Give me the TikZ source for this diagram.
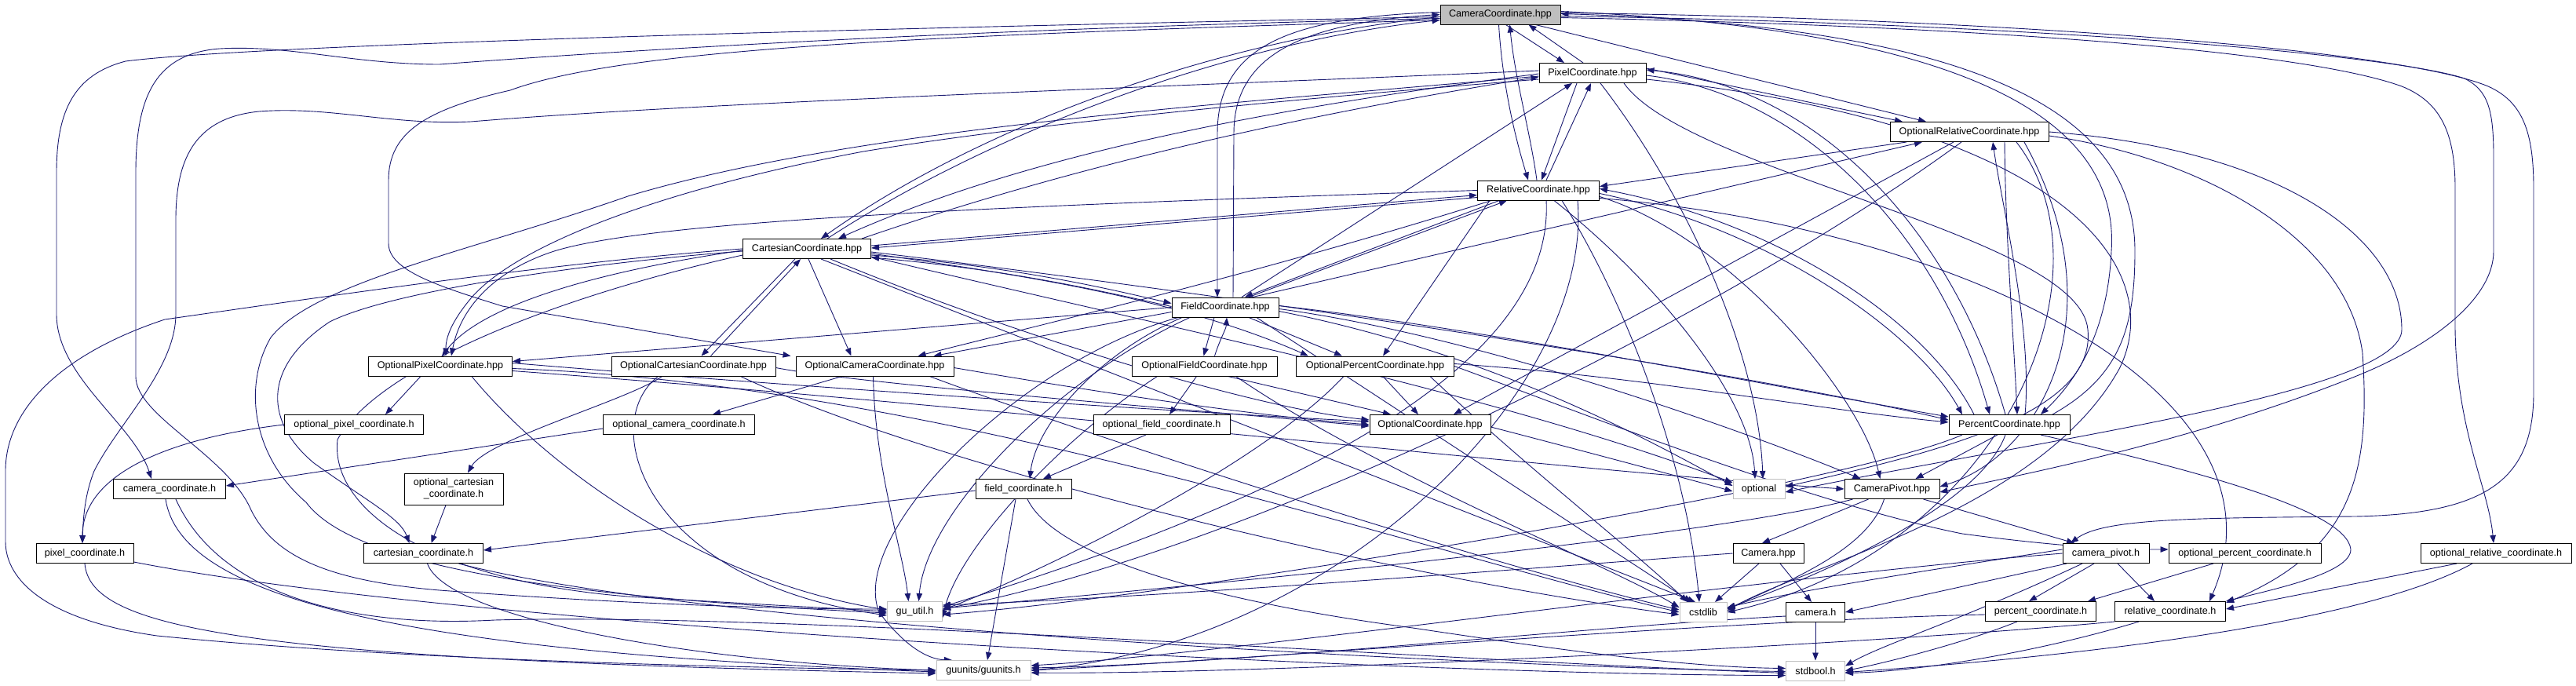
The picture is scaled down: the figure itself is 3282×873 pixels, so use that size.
\documentclass[tikz,border=0pt]{standalone}
\usepackage{fontspec}
\setmainfont{Liberation Sans}
\usetikzlibrary{arrows.meta}
\definecolor{eb}{HTML}{191970}
\definecolor{gb}{HTML}{BFBFBF}
\pgfdeclarelayer{edgelayer}
\pgfsetlayers{edgelayer,main}
\begin{document}
\begin{tikzpicture}[x=1pt,y=-1pt,
  n/.style={draw=black,fill=white,line width=1pt,minimum height=25pt,inner sep=0pt,
    font=\fontsize{12.6pt}{15pt}\selectfont},
  sys/.style={n,draw=gb},
  e/.style={draw=eb,line width=0.9pt,-{Triangle[length=10pt,width=7.5pt]}},
]
\begin{pgfonlayer}{edgelayer}
\useasboundingbox[fill=white] (0,0) rectangle (3282,873);
\end{pgfonlayer}

% ---------- nodes ----------
\node[n,fill=gb,minimum width=153pt] (cam) at (1911.5,18.5) {CameraCoordinate.hpp};
\node[n,minimum width=136pt] (pix) at (2029,93) {PixelCoordinate.hpp};
\node[n,minimum width=155pt] (rel) at (1960,242.5) {RelativeCoordinate.hpp};
\node[n,minimum width=163pt] (car) at (1028,317) {CartesianCoordinate.hpp};
\node[n,minimum width=136pt] (fld) at (1561,391.5) {FieldCoordinate.hpp};
\node[n,minimum width=202pt] (orel) at (2509,168) {OptionalRelativeCoordinate.hpp};
\node[n,minimum width=183pt] (opix) at (561,466.5) {OptionalPixelCoordinate.hpp};
\node[n,minimum width=209pt] (ocar) at (883.5,466.5) {OptionalCartesianCoordinate.hpp};
\node[n,minimum width=201pt] (ocam) at (1114.5,466.5) {OptionalCameraCoordinate.hpp};
\node[n,minimum width=185pt] (ofld) at (1534.5,466.5) {OptionalFieldCoordinate.hpp};
\node[n,minimum width=201pt] (oper) at (1752,466.5) {OptionalPercentCoordinate.hpp};
\node[n,minimum width=177pt] (opixh) at (451,541) {optional\_pixel\_coordinate.h};
\node[n,minimum width=193pt] (ocamh) at (865,541) {optional\_camera\_coordinate.h};
\node[n,minimum width=174pt] (ofldh) at (1480,541) {optional\_field\_coordinate.h};
\node[n,minimum width=154pt] (ocoord) at (1822,541) {OptionalCoordinate.hpp};
\node[n,minimum width=154pt] (per) at (2560,541) {PercentCoordinate.hpp};
\node[n,minimum width=143pt] (ccoordh) at (216,623) {camera\_coordinate.h};
\node[n,minimum width=126pt,minimum height=40pt,align=center] (ocarh) at (578,623) {optional\_cartesian\\\_coordinate.h};
\node[n,minimum width=122pt] (fldh) at (1304,623) {field\_coordinate.h};
\node[sys,minimum width=66pt] (opt) at (2241,623) {optional};
\node[n,minimum width=121pt] (piv) at (2410.5,623) {CameraPivot.hpp};
\node[n,minimum width=124pt] (pixh) at (108,705) {pixel\_coordinate.h};
\node[n,minimum width=152pt] (carh) at (539.5,705) {cartesian\_coordinate.h};
\node[n,minimum width=90pt] (camhpp) at (2253,705) {Camera.hpp};
\node[n,minimum width=110pt] (pivh) at (2683,705) {camera\_pivot.h};
\node[n,minimum width=194pt] (operh) at (2860,705) {optional\_percent\_coordinate.h};
\node[n,minimum width=192pt] (orelh) at (3180,705) {optional\_relative\_coordinate.h};
\node[sys,minimum width=70pt] (gu) at (1165.5,779) {gu\_util.h};
\node[sys,minimum width=60pt] (cstd) at (2170,780) {cstdlib};
\node[n,minimum width=75pt] (camh) at (2313,780) {camera.h};
\node[n,minimum width=141pt] (perh) at (2600,779) {percent\_coordinate.h};
\node[n,minimum width=141pt] (relh) at (2765,779) {relative\_coordinate.h};
\node[sys,minimum width=120pt] (guu) at (1253,854) {guunits/guunits.h};
\node[sys,minimum width=75pt] (stdb) at (2313,854.5) {stdbool.h};

\begin{pgfonlayer}{edgelayer}
% ---------- top cluster ----------
\draw[e] ([xshift=7pt]cam.south) -- ([xshift=-36pt]pix.north);
\draw[e] ([xshift=-12pt]pix.north) -- ([xshift=36pt]cam.south);
\draw[e] ([xshift=-2pt]cam.south) .. controls (1915,120) and (1935,190) .. ([xshift=-13pt]rel.north);
\draw[e] ([xshift=-2pt]rel.north) .. controls (1950,170) and (1930,100) .. ([xshift=12pt]cam.south);
\draw[e] ([xshift=10pt]rel.north) -- ([xshift=-2pt]pix.south);
\draw[e] ([xshift=-20pt]pix.south) -- ([xshift=4pt]rel.north);
\draw[e] ([xshift=21pt]fld.north) -- ([xshift=-26pt]pix.south);
% cam <-> car
\draw[e] ([yshift=-3pt]cam.west) .. controls (1550,50) and (1250,160) .. ([xshift=18pt]car.north);
\draw[e] ([xshift=26pt]car.north) .. controls (1260,170) and (1560,55) .. ([yshift=-7pt]cam.west);
% cam <-> fld
\draw[e] ([yshift=3pt]cam.west) .. controls (1640,22) and (1551,60) .. (1551,170) -- ([xshift=-10pt]fld.north);
\draw[e] ([xshift=10pt]fld.north) -- (1572,170) .. controls (1572,75) and (1650,30) .. (cam.west);
% car <-> rel
\draw[e] ([yshift=4pt]car.east) -- ([yshift=-6pt]rel.west);
\draw[e] ([yshift=-9pt]rel.west) -- ([yshift=1pt]car.east);
% car <-> fld
\draw[e] ([yshift=-8pt]car.east) .. controls (1300,340) and (1420,370) .. ([yshift=5pt]fld.west);
\draw[e] ([yshift=1pt]fld.west) .. controls (1420,375) and (1300,345) .. ([yshift=-11pt]car.east);
% rel <-> fld
\draw[e] ([xshift=-50pt]rel.south) -- ([xshift=25pt]fld.north);
\draw[e] ([xshift=30pt]fld.north) -- ([xshift=-40pt]rel.south);
% car <-> pix
\draw[e] ([xshift=70pt]car.north) .. controls (1400,200) and (1700,140) .. ([yshift=-5pt]pix.west);
\draw[e] ([yshift=-1pt]pix.west) .. controls (1600,140) and (1300,200) .. ([xshift=40pt]car.north);
% pix <-> per
\draw[e] ([yshift=-3pt]pix.east) .. controls (2300,120) and (2470,300) .. ([xshift=-25pt]per.north);
\draw[e] ([xshift=-5pt]per.north) .. controls (2490,300) and (2320,110) .. ([yshift=4pt]pix.east);
% rel <-> per
\draw[e] ([yshift=-4pt]rel.east) .. controls (2250,290) and (2440,420) .. ([xshift=-60pt]per.north);
\draw[e] ([xshift=-45pt]per.north) .. controls (2450,400) and (2250,280) .. ([yshift=2pt]rel.east);
% cam <-> per
\draw[e] ([yshift=4pt]cam.east) .. controls (2550,40) and (2700,170) .. (2690,320) .. controls (2685,430) and (2640,490) .. ([xshift=40pt]per.north);
\draw[e] ([xshift=55pt]per.north) .. controls (2700,480) and (2720,420) .. (2720,320) .. controls (2720,160) and (2560,35) .. ([yshift=1pt]cam.east);
% orel <-> per
\draw[e] ([xshift=45pt]orel.south) .. controls (2555,300) and (2565,420) .. ([xshift=10pt]per.north);
\draw[e] ([xshift=20pt]per.north) .. controls (2590,420) and (2550,260) .. ([xshift=30pt]orel.south);
% orel links
\draw[e] ([xshift=45pt]cam.south) -- ([xshift=-55pt]orel.north);
\draw[e] ([yshift=6pt]pix.east) -- ([xshift=-85pt]orel.north);
\draw[e] ([xshift=-80pt]orel.south) -- ([yshift=5pt]rel.east);
\draw[e] ([xshift=35pt]fld.north) -- ([xshift=-60pt]orel.south);
\draw[e] (rel.west) .. controls (1300,262) and (820,280) .. (700,322) .. controls (620,350) and (585,400) .. ([xshift=14pt]opix.north);

% ---------- left loops ----------
\draw[e] ([yshift=-3pt]cam.west) .. controls (900,40) and (300,60) .. (160,78) .. controls (95,95) and (72,140) .. (72,220) -- (72,400) .. controls (72,480) and (170,540) .. ([xshift=-23pt]ccoordh.north);
\draw[e] ([yshift=-5pt]cam.west) .. controls (1300,35) and (850,60) .. (560,82) .. controls (450,82) and (370,57) .. (280,62) .. controls (200,68) and (173,120) .. (173,220) -- (173,480) .. controls (173,530) and (290,580) .. (320,650) .. controls (350,710) and (420,740) .. (560,752) .. controls (800,770) and (1000,776) .. ([yshift=3pt]gu.west);
\draw[e] ([yshift=-7pt]cam.west) .. controls (1200,45) and (800,60) .. (650,115) .. controls (540,140) and (495,170) .. (495,230) -- (495,310) .. controls (495,345) and (560,365) .. (640,390) -- ([xshift=-6pt]ocam.north west);
\draw[e] ([yshift=3pt]pix.west) .. controls (1500,110) and (900,130) .. (600,155) .. controls (500,160) and (420,135) .. (330,142) .. controls (250,150) and (224,200) .. (224,280) -- (224,400) .. controls (224,470) and (150,540) .. (120,600) .. controls (108,630) and (106,660) .. ([xshift=-3pt]pixh.north);
\draw[e] ([yshift=-4pt]pix.west) .. controls (1600,130) and (1100,160) .. (800,250) .. controls (600,320) and (400,360) .. (345,430) .. controls (310,490) and (320,580) .. (390,640) .. controls (450,720) and (700,760) .. ([yshift=-2pt]gu.west);
\draw[e] ([yshift=-8pt]pix.west) .. controls (1600,130) and (1300,160) .. (1100,193) .. controls (850,240) and (660,310) .. (600,380) .. controls (575,410) and (568,430) .. ([xshift=7pt]opix.north);
\draw[e] (car.west) .. controls (700,335) and (400,380) .. (210,407) .. controls (80,450) and (7,520) .. (7,600) -- (7,690) .. controls (7,740) and (60,790) .. (200,810) .. controls (500,840) and (900,850) .. (guu.west);
\draw[e] ([yshift=-3pt]car.west) .. controls (750,335) and (500,370) .. (420,410) .. controls (330,470) and (340,540) .. (400,590) .. controls (470,640) and (510,660) .. ([xshift=-18pt]carh.north);

% ---------- right loops ----------
\draw[e] ([yshift=2pt]cam.east) .. controls (2500,22) and (3050,60) .. (3170,110) .. controls (3215,130) and (3228,170) .. (3228,240) -- (3228,500) .. controls (3228,610) and (3170,655) .. (3000,658) .. controls (2800,660) and (2680,660) .. ([xshift=-45pt]pivh.north);
\draw[e] ([yshift=-2pt]cam.east) .. controls (2600,30) and (3050,70) .. (3140,100) .. controls (3170,115) and (3177,140) .. (3177,200) -- (3177,320) .. controls (3177,380) and (3100,440) .. (3000,480) .. controls (2800,560) and (2600,600) .. ([yshift=-4pt]piv.east);
\draw[e] ([yshift=-4pt]cam.east) .. controls (2600,35) and (2950,70) .. (3060,110) .. controls (3110,130) and (3128,170) .. (3128,240) -- (3128,420) .. controls (3130,550) and (3170,620) .. ([xshift=-3pt]orelh.north);
\draw[e] ([yshift=-5pt]orel.east) .. controls (2800,200) and (2990,300) .. (3010,450) .. controls (3020,600) and (3000,700) .. ([yshift=-2pt]relh.north east);
\draw[e] ([xshift=40pt]per.south) .. controls (2800,600) and (2990,650) .. (2995,700) .. controls (2995,730) and (2900,750) .. (relh.north east);
\draw[e] (orel.east) .. controls (2900,190) and (3060,300) .. (3060,420) .. controls (3060,500) and (2600,560) .. ([yshift=-4pt]opt.east);
\draw[e] ([xshift=40pt]pix.south) .. controls (2150,220) and (2650,300) .. (2660,420) .. controls (2670,520) and (2500,570) .. ([yshift=3pt]opt.east);
\draw[e] ([yshift=-8pt]pix.east) .. controls (2650,160) and (2760,350) .. (2700,470) .. controls (2600,650) and (2300,720) .. ([yshift=2pt]cstd.east);

% ---------- hpp to lower ----------
\draw[e] ([yshift=-2pt]car.west) .. controls (800,340) and (620,380) .. ([xshift=2pt]opix.north);
\draw[e] ([xshift=-15pt]car.south) -- ([xshift=10pt]ocar.north);
\draw[e] ([xshift=22pt]ocar.north) -- ([xshift=-8pt]car.south);
\draw[e] ([xshift=2pt]car.south) -- ([xshift=-30pt]ocam.north);
\draw[e] ([xshift=18pt]car.south) -- ([xshift=-10pt]cstd.north);
\draw[e] ([yshift=-4pt]car.east) .. controls (1600,380) and (2200,470) .. ([yshift=6pt]per.west);
\draw[e] ([yshift=-10pt]car.east) .. controls (1500,420) and (1900,500) .. ([yshift=8pt]opt.west);
\draw[e] ([yshift=-6pt]car.east) .. controls (1300,350) and (1500,380) .. ([xshift=-85pt]oper.north);
\draw[e] ([yshift=-8pt]car.west) .. controls (700,380) and (480,470) .. (430,560) .. controls (420,650) and (550,740) .. (800,760) .. controls (1000,772) and (1080,776) .. (gu.west);
\draw[e] ([xshift=30pt]car.south) .. controls (1300,430) and (1600,520) .. ([yshift=6pt]ocoord.west);

\draw[e] ([xshift=-14pt]fld.south) -- ([xshift=-1pt]ofld.north);
\draw[e] ([xshift=13pt]ofld.north) .. controls (1555,430) and (1562,420) .. ([xshift=2pt]fld.south);
\draw[e] ([xshift=30pt]fld.south) -- ([xshift=-42pt]oper.north);
\draw[e] ([yshift=-6pt]fld.west) -- ([xshift=75pt]ocam.north);
\draw[e] (fld.west) -- ([yshift=6pt]opix.east);
\draw[e] ([xshift=-55pt]fld.south) .. controls (1400,450) and (1320,540) .. ([xshift=8pt]fldh.north);
\draw[e] ([xshift=-45pt]fld.south) .. controls (1350,480) and (1180,650) .. ([xshift=5pt]gu.north);
\draw[e] ([xshift=-60pt]fld.south) .. controls (1300,460) and (1080,680) .. (1120,780) .. controls (1150,820) and (1180,840) .. ([xshift=-40pt]guu.north);
\draw[e] ([xshift=40pt]fld.south) -- ([xshift=-15pt]cstd.north);
\draw[e] ([yshift=-5pt]fld.east) .. controls (1900,450) and (2100,560) .. ([yshift=4pt]opt.west);
\draw[e] ([yshift=-2pt]fld.east) .. controls (1900,430) and (2250,560) .. ([xshift=-40pt]piv.north);
\draw[e] ([yshift=2pt]fld.east) .. controls (1900,420) and (2300,500) .. ([yshift=10pt]per.west);

\draw[e] ([xshift=-62pt]rel.south) -- ([xshift=10pt]oper.north);
\draw[e] ([xshift=-60pt]rel.south) .. controls (1600,350) and (1300,420) .. ([xshift=55pt]ocam.north);
\draw[e] ([xshift=20pt]rel.south) .. controls (2100,350) and (2230,500) .. ([xshift=-5pt]opt.north);
\draw[e] ([xshift=10pt]pix.south) .. controls (2150,250) and (2240,450) .. ([xshift=5pt]opt.north);
\draw[e] ([yshift=-8pt]rel.east) .. controls (2200,300) and (2370,500) .. ([xshift=-15pt]piv.north);
\draw[e] ([xshift=30pt]rel.south) .. controls (2080,400) and (2150,600) .. ([xshift=-5pt]cstd.north);
\draw[e] ([xshift=10pt]rel.south) .. controls (1980,450) and (1700,620) .. ([yshift=6pt]gu.east);
\draw[e] ([xshift=50pt]rel.south) .. controls (2030,500) and (1700,820) .. (guu.east);
\draw[e] ([yshift=-10pt]rel.east) .. controls (2500,290) and (2930,500) .. ([xshift=50pt]relh.north);

\draw[e] ([xshift=-15pt]per.south) -- ([xshift=30pt]piv.north);
\draw[e] ([xshift=-5pt]per.south) .. controls (2520,650) and (2300,740) .. ([yshift=5pt]cstd.east);
\draw[e] ([xshift=-60pt]per.south) .. controls (2350,620) and (1500,760) .. ([yshift=-4pt]gu.east);

\draw[e] ([xshift=-20pt]orel.south) -- ([xshift=30pt]ocoord.north);
\draw[e] ([xshift=70pt]orel.south) .. controls (2700,400) and (2600,580) .. ([yshift=3pt]piv.east);
\draw[e] ([xshift=60pt]orel.south) .. controls (2700,350) and (2550,700) .. ([yshift=0pt]cstd.east);
\draw[e] ([xshift=-10pt]orel.south) .. controls (2200,400) and (1600,700) .. ([yshift=3pt]gu.east);

% ---------- optional layer ----------
\draw[e] ([xshift=-25pt]opix.south) -- ([xshift=40pt]opixh.north);
\draw[e] ([yshift=4pt]opix.east) .. controls (1100,500) and (1600,530) .. ([yshift=4pt]ocoord.west);
\draw[e] ([xshift=40pt]opix.south) .. controls (700,600) and (900,740) .. ([yshift=2pt]gu.west);
\draw[e] ([yshift=-3pt]opix.east) .. controls (1200,490) and (1800,700) .. (cstd.west);
\draw[e] ([yshift=-6pt]opix.east) .. controls (1300,520) and (2000,600) .. (piv.west);
\draw[e] ([xshift=-40pt]ocar.south) .. controls (800,510) and (620,560) .. ([xshift=18pt]ocarh.north);
\draw[e] ([yshift=-2pt]ocar.east) .. controls (1100,490) and (1500,520) .. ([yshift=-2pt]ocoord.west);
\draw[e] ([xshift=-45pt]ocar.south) .. controls (760,540) and (820,740) .. ([yshift=-5pt]gu.west);
\draw[e] ([xshift=60pt]ocar.south) .. controls (1200,600) and (1800,740) .. ([yshift=-3pt]cstd.west);
\draw[e] ([xshift=-42pt]ocam.south) -- ([xshift=43pt]ocamh.north);
\draw[e] ([yshift=-2pt]ocam.east) .. controls (1400,500) and (1600,530) .. ([yshift=0pt]ocoord.west);
\draw[e] ([xshift=-2pt]ocam.south) .. controls (1115,600) and (1150,700) .. ([xshift=-8pt]gu.north);
\draw[e] ([xshift=70pt]ocam.south) .. controls (1400,560) and (1900,720) .. ([yshift=3pt]cstd.west);
\draw[e] ([xshift=-10pt]ofld.south) -- ([xshift=10pt]ofldh.north);
\draw[e] ([xshift=30pt]ofld.south) -- ([xshift=-50pt]ocoord.north);
\draw[e] ([xshift=-60pt]ofld.south) .. controls (1350,560) and (1220,700) .. ([yshift=-8pt]gu.east);
\draw[e] ([xshift=40pt]ofld.south) .. controls (1750,600) and (2050,720) .. ([yshift=6pt]cstd.west);
\draw[e] (oper.east) .. controls (2000,520) and (2300,640) .. (2500,680) .. controls (2650,700) and (2720,700) .. ([yshift=5pt]operh.west);
\draw[e] ([xshift=10pt]oper.south) -- ([xshift=-15pt]ocoord.north);
\draw[e] ([yshift=3pt]oper.east) .. controls (2100,480) and (2300,520) .. ([yshift=3pt]per.west);
\draw[e] ([xshift=-40pt]oper.south) .. controls (1600,600) and (1300,740) .. ([yshift=2pt]gu.east);
\draw[e] ([xshift=70pt]oper.south) .. controls (1950,600) and (2080,700) .. ([xshift=-20pt]cstd.north);
\draw[e] ([yshift=-3pt]ocoord.east) .. controls (2000,570) and (2150,610) .. ([yshift=-3pt]opt.west);

% ---------- header layer ----------
\draw[e] (opixh.west) .. controls (200,560) and (105,610) .. ([xshift=-3pt]pixh.north);
\draw[e] ([yshift=-5pt]ocamh.west) -- ([yshift=4pt]ccoordh.east);
\draw[e] ([xshift=-10pt]ocarh.south) -- ([xshift=10pt]carh.north);
\draw[e] ([xshift=-20pt]ofldh.south) -- ([xshift=25pt]fldh.north);
\draw[e] ([yshift=-2pt]fldh.west) -- ([yshift=4pt]carh.east);
\draw[e] ([xshift=-10pt]fldh.south) -- ([xshift=5pt]guu.north);
\draw[e] ([xshift=5pt]fldh.south) .. controls (1340,700) and (1500,760) .. (1800,800) .. controls (2000,830) and (2150,850) .. ([yshift=3pt]stdb.west);
\draw[e] ([xshift=-40pt]operh.south) -- ([xshift=60pt]perh.north);
\draw[e] ([xshift=-50pt]orelh.south) -- ([yshift=3pt]relh.east);
\draw[e] ([xshift=-30pt]orelh.south) .. controls (3000,800) and (2600,840) .. ([yshift=-2pt]stdb.east);
\draw[e] ([xshift=-30pt]piv.south) -- ([xshift=-8pt]camhpp.north);
\draw[e] ([xshift=40pt]piv.south) -- ([xshift=-40pt]pivh.north);
\draw[e] ([xshift=-10pt]piv.south) .. controls (2380,700) and (2280,740) .. ([yshift=4pt]cstd.east);
\draw[e] ([xshift=-50pt]piv.south) .. controls (2200,680) and (1600,740) .. ([yshift=4pt]gu.east);
\draw[e] ([xshift=15pt]camhpp.south) -- ([xshift=-5pt]camh.north);
\draw[e] ([xshift=-12pt]camhpp.south) -- ([xshift=15pt]cstd.north);
\draw[e] (camhpp.west) .. controls (2000,720) and (1500,760) .. ([yshift=8pt]gu.east);
\draw[e] (camh) -- (stdb);
\draw[e] ([yshift=-5pt]camh.west) .. controls (2000,800) and (1600,845) .. ([yshift=3pt]guu.east);
\draw[e] ([xshift=-50pt]pivh.south) -- (camh.east);
\draw[e] ([xshift=-15pt]pivh.south) -- ([xshift=-15pt]perh.north);
\draw[e] ([xshift=15pt]pivh.south) -- ([xshift=-20pt]relh.north);
\draw[e] ([xshift=-30pt]pivh.south) .. controls (2500,790) and (2400,820) .. ([yshift=6pt]stdb.east);
\draw[e] ([yshift=5pt]pivh.west) .. controls (2500,720) and (2300,750) .. ([yshift=6pt]cstd.east);
\draw[e] (pivh.west) .. controls (2200,740) and (1600,830) .. ([yshift=6pt]guu.east);
\draw[e] ([yshift=-4pt]perh.west) .. controls (2200,790) and (1600,840) .. (guu.east);
\draw[e] ([xshift=-30pt]perh.south) .. controls (2500,820) and (2400,845) .. (stdb.east);
\draw[e] (relh.south west) .. controls (2400,820) and (1600,860) .. ([yshift=-3pt]guu.east);
\draw[e] ([xshift=-40pt]relh.south) .. controls (2600,830) and (2450,855) .. ([yshift=-3pt]stdb.east);
\draw[e] ([xshift=-5pt]ccoordh.south) .. controls (230,760) and (500,830) .. ([yshift=-2pt]guu.west);
\draw[e] ([xshift=8pt]ccoordh.south) .. controls (280,760) and (450,800) .. (630,790) .. controls (1000,780) and (1800,840) .. ([yshift=-3pt]stdb.west);
\draw[e] (pixh.south) .. controls (115,800) and (300,840) .. ([yshift=-4pt]guu.west);
\draw[e] ([yshift=2pt]pixh.south east) .. controls (600,800) and (1800,860) .. ([yshift=-6pt]stdb.west);
\draw[e] ([xshift=5pt]carh.south) .. controls (570,790) and (900,845) .. (guu.west);
\draw[e] ([xshift=45pt]carh.south) .. controls (900,800) and (1900,850) .. ([yshift=-1pt]stdb.west);
\end{pgfonlayer}
\end{tikzpicture}
\end{document}
